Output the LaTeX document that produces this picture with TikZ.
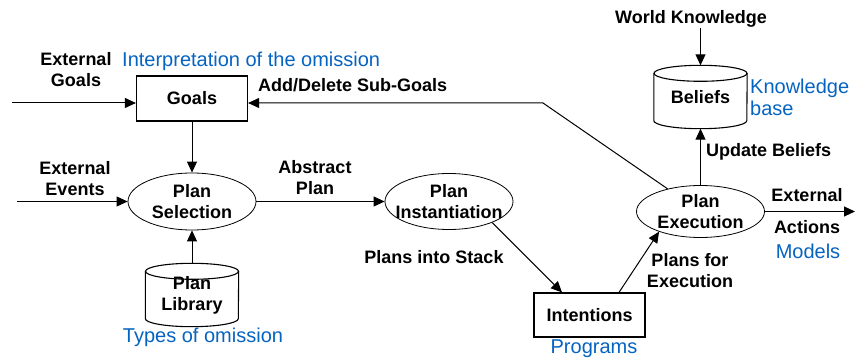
\documentclass[tikz,border=0pt]{standalone}
\usepackage{fontspec}
\setmainfont{Liberation Sans}
\usetikzlibrary{arrows.meta,shapes.geometric}
\definecolor{noteblue}{RGB}{5,99,193}
\newcommand{\lblfont}{\bfseries\fontsize{18}{21}\selectfont}
\newcommand{\notefont}{\fontsize{20}{22}\selectfont}
\newcommand{\cylout}[1]{%
  \draw[cylline] ([yshift=-8pt]#1.north) ellipse [x radius=46.5pt, y radius=8pt];
  \draw[cylline] ([yshift=-8pt]#1.north west) -- ([yshift=8pt]#1.south west)
    arc[start angle=180, end angle=360, x radius=46.5pt, y radius=8pt]
    -- ([yshift=-8pt]#1.north east);}
\begin{document}
\begin{tikzpicture}[x=1pt,y=-1pt,
  lbl/.style={font=\lblfont, align=center, inner sep=0pt},
  note/.style={font=\notefont, text=noteblue, inner sep=0pt},
  boxnode/.style={draw, line width=1.2pt, minimum width=111pt, minimum height=45pt, inner sep=0pt, font=\lblfont},
  ellnode/.style={draw, ellipse, line width=0.8pt, minimum width=128pt, minimum height=56pt, inner sep=0pt, align=center, font=\lblfont},
  cylnode/.style={minimum width=93pt, minimum height=63pt, inner sep=0pt, align=center, font=\lblfont},
  cylline/.style={line width=1.1pt},
  conn/.style={line width=1pt, -{Triangle[length=11pt,width=10pt]}},
]
\useasboundingbox (0,0) rectangle (855,358);

% main nodes
\node[boxnode] (goals) at (192,98.5) {Goals};
\node[ellnode, minimum height=57pt] (psel) at (192,201.5) {Plan\\Selection};
\node[ellnode, inner xsep=-8.5pt] (pinst) at (449,201.5) {Plan\\Instantiation};
\node[cylnode] (lib) at (192,295) {Plan\\Library};
\node[boxnode, minimum height=44pt] (int) at (589.5,315) {Intentions};
\node[ellnode, minimum height=52pt] (pexec) at (700.5,211.5) {Plan\\Execution};
\node[cylnode] (bel) at (700.5,97) {Beliefs};
\cylout{lib}
\cylout{bel}

% labels
\node[lbl] (lextg) at (76,70) {External\\Goals};
\node[note, anchor=base west] (ninterp) at (122,66.7) {Interpretation of the omission};
\node[lbl, anchor=base west] (ladd) at (258,91.5) {Add/Delete Sub-Goals};
\node[lbl] (lexte) at (75,179) {External\\Events};
\node[lbl] (labs) at (315,178) {Abstract\\Plan};
\node[lbl, anchor=base] (linto) at (434,264) {Plans into Stack};
\node[lbl] (lpfe) at (690,271) {Plans for\\Execution};
\node[lbl, anchor=base] (lext) at (807,202) {External};
\node[lbl, anchor=base] (lact) at (807,234) {Actions};
\node[note, anchor=base] (nmod) at (808,259) {Models};
\node[note, anchor=base] (nprog) at (594,353) {Programs};
\node[note, anchor=base] (ntypes) at (203,343) {Types of omission};
\node[note, align=left, anchor=west] (nkb) at (750,97) {Knowledge\\base};
\node[lbl, anchor=base] (lworld) at (691,23.5) {World Knowledge};
\node[lbl, anchor=base west] (lupd) at (706,157) {Update Beliefs};

% free ends
\coordinate (eg) at (12,103);
\coordinate (ee) at (17,201.5);
\coordinate (ea) at (855,211.5);
\coordinate (bend) at (543,103);

% connectors
\draw[conn] (eg) -- (eg -| goals.west);
\draw[conn] (pexec) -- (bend) -- (bend -| goals.east);
\draw[conn] (goals) -- (psel);
\draw[conn] (ee) -- (psel);
\draw[conn] (psel) -- (pinst);
\draw[conn] (lib) -- (psel);
\draw[conn] (pinst.-26) -- ([xshift=-27.5pt]int.north);
\draw[conn] ([xshift=29.5pt]int.north) -- (pexec.206);
\draw[conn] (pexec) -- (ea);
\draw[conn] (lworld.south -| bel.north) -- (bel.north);
\draw[conn] (pexec) -- (bel);
\end{tikzpicture}
\end{document}
